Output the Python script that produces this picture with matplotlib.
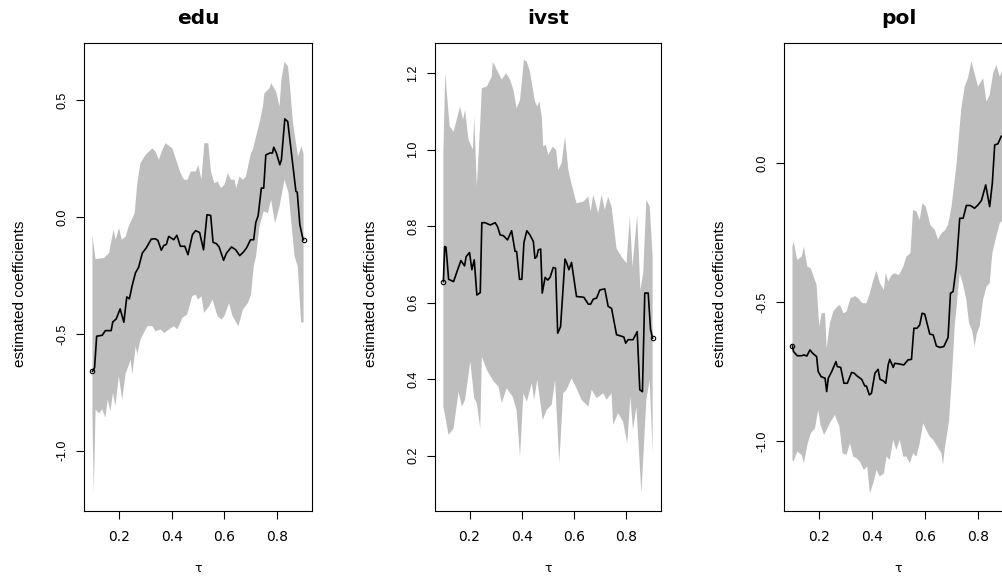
import numpy as np
import matplotlib
matplotlib.use("Agg")
import matplotlib.pyplot as plt

# ---- data (tau, estimate, band limits) ----
edu_tau_mid = [0.100, 0.108, 0.116, 0.137, 0.149, 0.171, 0.177, 0.190, 0.205, 0.219, 0.230, 0.240, 0.250, 0.263,
               0.275, 0.289, 0.304, 0.323, 0.339, 0.348, 0.361, 0.370, 0.380, 0.389, 0.399, 0.408, 0.420, 0.433,
               0.450, 0.462, 0.479, 0.491, 0.506, 0.521, 0.534, 0.548, 0.557, 0.570, 0.580, 0.597, 0.608, 0.627,
               0.643, 0.658, 0.671, 0.684, 0.699, 0.711, 0.719, 0.728, 0.740, 0.749, 0.757, 0.772, 0.782, 0.787,
               0.797, 0.810, 0.816, 0.829, 0.840, 0.854, 0.871, 0.876, 0.886, 0.896, 0.900]
edu_mid = [-0.66, -0.645, -0.51, -0.506, -0.486, -0.486, -0.449, -0.436, -0.393, -0.45, -0.342, -0.35, -0.296, -0.239,
           -0.215, -0.154, -0.132, -0.094, -0.093, -0.10, -0.142, -0.122, -0.117, -0.083, -0.09, -0.097, -0.078, -0.125,
           -0.125, -0.161, -0.075, -0.058, -0.066, -0.14, 0.01, 0.007, -0.108, -0.114, -0.128, -0.185, -0.154, -0.128,
           -0.14, -0.165, -0.151, -0.132, -0.097, -0.097, -0.023, 0.006, 0.124, 0.124, 0.266, 0.274, 0.274, 0.299,
           0.274, 0.224, 0.245, 0.42, 0.409, 0.274, 0.11, 0.107, -0.033, -0.085, -0.097]
edu_tau_up = [0.100, 0.112, 0.144, 0.163, 0.180, 0.188, 0.201, 0.211, 0.226, 0.235, 0.260, 0.270, 0.282, 0.301,
              0.327, 0.339, 0.352, 0.365, 0.377, 0.403, 0.415, 0.434, 0.447, 0.460, 0.473, 0.492, 0.501, 0.513,
              0.524, 0.539, 0.549, 0.562, 0.575, 0.587, 0.600, 0.613, 0.625, 0.638, 0.645, 0.657, 0.670, 0.682,
              0.691, 0.701, 0.708, 0.720, 0.733, 0.746, 0.752, 0.771, 0.777, 0.796, 0.809, 0.816, 0.828, 0.841,
              0.847, 0.860, 0.879, 0.892, 0.900]
edu_up = [-0.08, -0.18, -0.175, -0.154, -0.054, -0.097, -0.047, -0.097, -0.083, -0.047, 0.017, 0.145, 0.231, 0.266,
          0.294, 0.28, 0.245, 0.288, 0.316, 0.294, 0.252, 0.188, 0.16, 0.16, 0.195, 0.195, 0.224, 0.16,
          0.316, 0.316, 0.195, 0.145, 0.152, 0.124, 0.138, 0.188, 0.16, 0.16, 0.124, 0.174, 0.16, 0.174,
          0.224, 0.274, 0.288, 0.345, 0.402, 0.473, 0.53, 0.551, 0.573, 0.537, 0.473, 0.587, 0.665, 0.644,
          0.58, 0.402, 0.259, 0.302, 0.27]
edu_tau_lo = [0.100, 0.105, 0.112, 0.124, 0.137, 0.149, 0.158, 0.168, 0.178, 0.187, 0.200, 0.213, 0.226, 0.232,
              0.245, 0.251, 0.264, 0.270, 0.282, 0.308, 0.327, 0.339, 0.358, 0.373, 0.390, 0.409, 0.422, 0.441,
              0.459, 0.478, 0.491, 0.500, 0.513, 0.523, 0.542, 0.555, 0.574, 0.589, 0.600, 0.618, 0.631, 0.653,
              0.670, 0.689, 0.701, 0.711, 0.720, 0.733, 0.749, 0.765, 0.777, 0.792, 0.809, 0.828, 0.843, 0.866,
              0.878, 0.891, 0.900]
edu_lo = [-0.85, -1.18, -0.823, -0.84, -0.823, -0.859, -0.781, -0.831, -0.752, -0.809, -0.681, -0.781, -0.667, -0.652,
          -0.61, -0.674, -0.553, -0.588, -0.524, -0.467, -0.467, -0.489, -0.481, -0.496, -0.481, -0.467, -0.481, -0.431,
          -0.417, -0.339, -0.332, -0.353, -0.339, -0.41, -0.382, -0.353, -0.424, -0.439, -0.424, -0.368, -0.424, -0.467,
          -0.396, -0.368, -0.332, -0.211, -0.168, -0.04, 0.024, 0.017, 0.074, -0.026, 0.046, 0.16, 0.103, -0.168,
          -0.211, -0.453, -0.45]

ivst_tau_mid = [0.100, 0.105, 0.110, 0.120, 0.139, 0.152, 0.167, 0.181, 0.187, 0.200, 0.209, 0.218, 0.228, 0.241,
                0.247, 0.260, 0.279, 0.298, 0.307, 0.317, 0.330, 0.345, 0.361, 0.374, 0.380, 0.391, 0.400, 0.408,
                0.419, 0.431, 0.444, 0.450, 0.457, 0.463, 0.472, 0.478, 0.489, 0.499, 0.508, 0.520, 0.529, 0.537,
                0.548, 0.565, 0.571, 0.580, 0.590, 0.609, 0.637, 0.654, 0.663, 0.673, 0.686, 0.698, 0.717, 0.730,
                0.743, 0.762, 0.777, 0.790, 0.797, 0.806, 0.825, 0.841, 0.851, 0.861, 0.870, 0.883, 0.892, 0.900]
ivst_mid = [0.655, 0.747, 0.745, 0.661, 0.655, 0.681, 0.71, 0.696, 0.72, 0.731, 0.686, 0.712, 0.62, 0.626,
            0.809, 0.809, 0.803, 0.809, 0.799, 0.777, 0.775, 0.764, 0.788, 0.734, 0.734, 0.661, 0.661, 0.757,
            0.788, 0.777, 0.76, 0.716, 0.72, 0.738, 0.74, 0.625, 0.666, 0.659, 0.666, 0.692, 0.69, 0.52,
            0.537, 0.714, 0.705, 0.686, 0.705, 0.616, 0.614, 0.596, 0.596, 0.609, 0.612, 0.633, 0.636, 0.59,
            0.585, 0.516, 0.513, 0.51, 0.494, 0.503, 0.503, 0.524, 0.372, 0.367, 0.625, 0.625, 0.53, 0.507]
ivst_tau_up = [0.100, 0.107, 0.124, 0.139, 0.164, 0.175, 0.183, 0.196, 0.213, 0.218, 0.228, 0.241, 0.247, 0.266,
               0.285, 0.289, 0.311, 0.323, 0.340, 0.355, 0.368, 0.380, 0.393, 0.400, 0.408, 0.419, 0.431, 0.450,
               0.459, 0.467, 0.476, 0.482, 0.492, 0.501, 0.518, 0.531, 0.539, 0.552, 0.565, 0.578, 0.586, 0.609,
               0.635, 0.654, 0.663, 0.673, 0.692, 0.705, 0.717, 0.730, 0.743, 0.762, 0.781, 0.800, 0.813, 0.823,
               0.841, 0.853, 0.864, 0.876, 0.889, 0.900]
ivst_up = [0.991, 1.2, 1.061, 1.047, 1.113, 1.078, 1.104, 1.026, 1.0, 1.087, 0.904, 1.069, 1.161, 1.165,
           1.191, 1.23, 1.2, 1.183, 1.2, 1.183, 1.156, 1.108, 1.13, 1.178, 1.235, 1.23, 1.204, 1.126,
           1.113, 1.126, 1.087, 1.008, 1.013, 0.986, 1.008, 0.999, 0.947, 0.965, 1.034, 0.947, 0.921, 0.86,
           0.864, 0.877, 0.838, 0.882, 0.834, 0.882, 0.843, 0.877, 0.851, 0.742, 0.72, 0.703, 0.825, 0.694,
           0.829, 0.633, 0.677, 0.869, 0.851, 0.72]
ivst_tau_lo = [0.100, 0.120, 0.139, 0.158, 0.171, 0.183, 0.203, 0.218, 0.228, 0.241, 0.247, 0.266, 0.292, 0.311,
               0.323, 0.342, 0.365, 0.380, 0.393, 0.406, 0.419, 0.438, 0.447, 0.459, 0.480, 0.495, 0.514, 0.527,
               0.536, 0.543, 0.558, 0.571, 0.590, 0.609, 0.628, 0.654, 0.667, 0.686, 0.711, 0.724, 0.743, 0.749,
               0.768, 0.787, 0.803, 0.815, 0.825, 0.838, 0.857, 0.876, 0.889, 0.900]
ivst_lo = [0.328, 0.254, 0.271, 0.367, 0.328, 0.346, 0.446, 0.35, 0.337, 0.271, 0.459, 0.424, 0.394, 0.38,
           0.337, 0.376, 0.354, 0.319, 0.197, 0.363, 0.341, 0.389, 0.346, 0.398, 0.293, 0.319, 0.333, 0.398,
           0.276, 0.18, 0.363, 0.372, 0.402, 0.376, 0.346, 0.328, 0.372, 0.35, 0.363, 0.346, 0.363, 0.28,
           0.311, 0.289, 0.232, 0.354, 0.267, 0.328, 0.101, 0.346, 0.398, 0.206]

pol_tau_mid = [0.100, 0.104, 0.118, 0.135, 0.143, 0.154, 0.166, 0.176, 0.191, 0.197, 0.208, 0.223, 0.229, 0.235,
               0.248, 0.264, 0.269, 0.282, 0.294, 0.307, 0.323, 0.333, 0.344, 0.361, 0.373, 0.379, 0.390, 0.398,
               0.411, 0.423, 0.430, 0.442, 0.452, 0.461, 0.467, 0.480, 0.486, 0.505, 0.520, 0.536, 0.549, 0.558,
               0.570, 0.580, 0.589, 0.599, 0.618, 0.631, 0.643, 0.656, 0.671, 0.687, 0.696, 0.706, 0.718, 0.731,
               0.744, 0.756, 0.771, 0.787, 0.800, 0.813, 0.829, 0.844, 0.854, 0.863, 0.875, 0.888, 0.900]
pol_mid = [-0.658, -0.678, -0.693, -0.693, -0.69, -0.694, -0.672, -0.684, -0.696, -0.75, -0.768, -0.774, -0.822, -0.774,
           -0.75, -0.714, -0.732, -0.735, -0.792, -0.792, -0.753, -0.756, -0.766, -0.778, -0.802, -0.802, -0.834, -0.828,
           -0.756, -0.742, -0.778, -0.783, -0.792, -0.726, -0.706, -0.735, -0.72, -0.723, -0.726, -0.708, -0.706, -0.594,
           -0.594, -0.582, -0.54, -0.543, -0.615, -0.618, -0.658, -0.663, -0.66, -0.627, -0.468, -0.462, -0.372, -0.198,
           -0.198, -0.152, -0.152, -0.162, -0.15, -0.134, -0.078, -0.156, -0.072, 0.066, 0.07, 0.098, 0.09]
pol_tau_up = [0.100, 0.104, 0.118, 0.135, 0.143, 0.156, 0.169, 0.191, 0.201, 0.210, 0.223, 0.229, 0.241, 0.254,
              0.269, 0.279, 0.292, 0.304, 0.319, 0.336, 0.348, 0.364, 0.379, 0.392, 0.405, 0.417, 0.430, 0.445,
              0.452, 0.461, 0.474, 0.486, 0.502, 0.518, 0.530, 0.545, 0.555, 0.568, 0.580, 0.590, 0.603, 0.620,
              0.637, 0.649, 0.662, 0.674, 0.687, 0.700, 0.718, 0.737, 0.750, 0.762, 0.775, 0.787, 0.800, 0.819,
              0.832, 0.844, 0.857, 0.869, 0.882, 0.893, 0.900]
pol_up = [-0.30, -0.282, -0.348, -0.336, -0.30, -0.372, -0.378, -0.438, -0.588, -0.54, -0.54, -0.666, -0.576, -0.534,
          -0.516, -0.51, -0.54, -0.534, -0.486, -0.478, -0.486, -0.504, -0.504, -0.468, -0.42, -0.387, -0.432, -0.456,
          -0.394, -0.426, -0.402, -0.396, -0.402, -0.372, -0.336, -0.324, -0.168, -0.174, -0.204, -0.144, -0.156, -0.222,
          -0.24, -0.274, -0.252, -0.243, -0.222, -0.156, -0.012, 0.198, 0.276, 0.306, 0.366, 0.324, 0.276, 0.306,
          0.222, 0.246, 0.324, 0.354, 0.312, 0.336, 0.30]
pol_tau_lo = [0.100, 0.104, 0.118, 0.135, 0.143, 0.156, 0.169, 0.185, 0.197, 0.206, 0.219, 0.229, 0.241, 0.260,
              0.277, 0.289, 0.304, 0.317, 0.329, 0.342, 0.354, 0.369, 0.382, 0.392, 0.405, 0.417, 0.430, 0.445,
              0.455, 0.467, 0.480, 0.492, 0.505, 0.518, 0.530, 0.543, 0.555, 0.568, 0.580, 0.593, 0.605, 0.618,
              0.631, 0.643, 0.662, 0.668, 0.674, 0.691, 0.700, 0.712, 0.731, 0.744, 0.756, 0.766, 0.779, 0.787,
              0.796, 0.806, 0.819, 0.832, 0.844, 0.854, 0.869, 0.882, 0.893, 0.900]
pol_lo = [-1.07, -1.074, -1.038, -1.05, -1.08, -1.014, -0.972, -0.954, -0.888, -0.942, -0.978, -0.96, -0.936, -0.906,
          -0.948, -1.044, -1.05, -1.008, -1.056, -1.062, -1.074, -1.104, -1.092, -1.188, -1.152, -1.104, -1.128, -1.116,
          -1.056, -1.068, -0.996, -1.032, -0.996, -1.056, -1.056, -1.08, -1.044, -1.056, -1.008, -0.936, -0.96, -0.984,
          -0.996, -1.014, -1.044, -1.086, -1.032, -0.924, -0.792, -0.588, -0.396, -0.438, -0.492, -0.574, -0.606, -0.66,
          -0.612, -0.588, -0.492, -0.444, -0.432, -0.324, -0.264, -0.216, -0.204, -0.20]

titles = ["edu", "ivst", "pol"]
x_ticks = [0.2, 0.4, 0.6, 0.8]
y_ticks = [[-1.0, -0.5, 0.0, 0.5],
           [0.2, 0.4, 0.6, 0.8, 1.0, 1.2],
           [-1.0, -0.5, 0.0]]
y_limits = [(-1.258, 0.745), (0.055, 1.279), (-1.252, 0.433)]

panels = [
    (edu_tau_mid, edu_mid, edu_tau_up, edu_up, edu_tau_lo, edu_lo),
    (ivst_tau_mid, ivst_mid, ivst_tau_up, ivst_up, ivst_tau_lo, ivst_lo),
    (pol_tau_mid, pol_mid, pol_tau_up, pol_up, pol_tau_lo, pol_lo),
]

# axes boxes in pixels (left, width) on a 1003x577 canvas; the last one runs off the right edge
W, H = 1003, 577
boxes = [(84, 228), (435, 226), (784, 229)]
top_px, bottom_px = 43, 511

fig = plt.figure(figsize=(W / 100, H / 100), dpi=100)

for i, (tm, m, tu, u, tl, l) in enumerate(panels):
    left, width = boxes[i]
    ax = fig.add_axes([left / W, (H - bottom_px) / H, width / W, (bottom_px - top_px) / H])

    # confidence band as one polygon, then the estimate
    xs = np.concatenate([tu, tl[::-1]])
    ys = np.concatenate([u, l[::-1]])
    ax.fill(xs, ys, color="#bebebe", lw=0)
    ax.plot(tm, m, color="black", lw=1.2, marker="o", markevery=[0, len(tm) - 1],
            ms=3.2, mfc="none", mec="black", mew=0.8)

    ax.set_xlim(0.068, 0.932)
    ax.set_ylim(*y_limits[i])

    ax.set_xticks(x_ticks)
    ax.set_xticklabels([f"{t:.1f}" for t in x_ticks], fontsize=10, family="DejaVu Sans")
    ax.set_yticks(y_ticks[i])
    ax.set_yticklabels([f"{t:.1f}" for t in y_ticks[i]], rotation=90, va="center",
                       fontsize=9, family="Liberation Sans")
    ax.tick_params(axis="x", direction="out", length=5.5, width=0.8, pad=8.5)
    ax.tick_params(axis="y", direction="out", length=5.5, width=0.8, pad=6)
    for s in ax.spines.values():
        s.set_linewidth(0.8)

    ax.set_title(titles[i], fontsize=14.5, fontweight="bold", family="DejaVu Sans", pad=14)
    ax.text(-64 / width, 0.464, "estimated coefficients", rotation=90, transform=ax.transAxes,
            ha="center", va="center", fontsize=11, family="Liberation Sans")
    ax.text(0.5, -57 / (bottom_px - top_px), "τ", transform=ax.transAxes,
            ha="center", va="center", fontsize=9, family="DejaVu Sans")

fig.savefig("out.png", dpi=100)
